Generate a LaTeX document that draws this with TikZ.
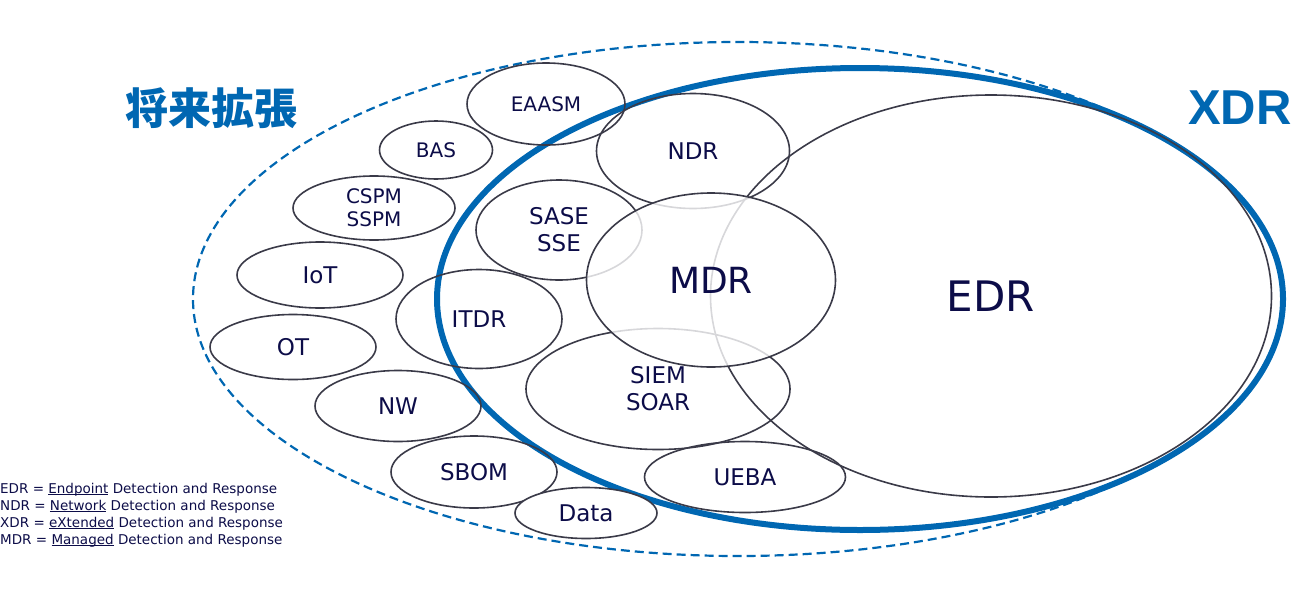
\documentclass[tikz,border=0pt]{standalone}
\usepackage{fontspec}
\setmainfont{DejaVu Sans}
\newfontfamily\jpfont{Noto Sans CJK JP}
\newfontfamily\headfont{Liberation Sans}
\usetikzlibrary{shapes.geometric}
\definecolor{xdrblue}{RGB}{0,103,178}
\definecolor{navy}{RGB}{12,12,72}
\definecolor{rim}{RGB}{58,58,72}
\tikzstyle{item}=[ellipse,draw=rim,line width=1.6pt,inner sep=0pt,text=navy,align=center]
\tikzstyle{small}=[font=\fontsize{20}{23}\selectfont]
\tikzstyle{mid}=[font=\fontsize{23}{27}\selectfont]
\tikzstyle{head}=[text=xdrblue,font=\bfseries]
\newcommand{\uword}[1]{\underline{\smash{#1}}}

\begin{document}
\begin{tikzpicture}[x=1pt,y=-1pt]
          \useasboundingbox (0,0) rectangle (1292,600);

          \node[ellipse,draw=xdrblue,line width=2.2pt,dashed,dash pattern=on 9pt off 5pt,
                minimum width=1090pt,minimum height=514pt] (future) at (738,299) {};
          \node[ellipse,draw=xdrblue,line width=6pt,
                minimum width=846pt,minimum height=462pt] (xdr) at (860,299) {};
          \node[item,minimum width=561pt,minimum height=402pt,
                font=\fontsize{42}{46}\selectfont] (edr) at (991,296) {EDR};

          \node[item,mid,minimum width=193pt,minimum height=115pt] (ndr) at (693,151) {NDR};
          \node[item,mid,minimum width=166pt,minimum height=100pt] (sase) at (559,230) {SASE\\SSE};
          \node[item,mid,minimum width=166pt,minimum height=99pt] (itdr) at (479,319) {ITDR};
          \node[item,mid,minimum width=264pt,minimum height=121pt] (siem) at (658,389) {SIEM\\SOAR};
          \node[item,mid,minimum width=201pt,minimum height=71pt] (ueba) at (745,477) {UEBA};

          \node[item,small,minimum width=158pt,minimum height=82pt] (eaasm) at (546,104) {EAASM};
          \node[item,small,minimum width=113pt,minimum height=58pt] (bas) at (436,150) {BAS};
          \node[item,small,minimum width=162pt,minimum height=64pt] (cspm) at (374,208) {CSPM\\SSPM};
          \node[item,mid,minimum width=166pt,minimum height=66pt] (iot) at (320,275) {IoT};
          \node[item,mid,minimum width=166pt,minimum height=65pt] (ot) at (293,347) {OT};
          \node[item,mid,minimum width=166pt,minimum height=71pt] (nw) at (398,406) {NW};
          \node[item,mid,minimum width=166pt,minimum height=72pt] (sbom) at (474,472) {SBOM};
          \node[item,mid,fill=white,minimum width=142pt,minimum height=51pt] (data) at (586,513) {Data};

          \node[item,fill=white,fill opacity=0.8,text opacity=1,minimum width=249pt,minimum height=174pt,
                font=\fontsize{36}{40}\selectfont] (mdr) at (711,280) {MDR};

          \node[head,font=\jpfont\bfseries\fontsize{43}{46}\selectfont] (plan) at (211,108) {将来拡張};
          \node[head,font=\headfont\bfseries\fontsize{49}{52}\selectfont] (xdrlabel) at (1240,108) {XDR};

          \node[anchor=west,inner sep=0pt,align=left,text=navy,font=\fontsize{13.5}{17}\selectfont] (legend) at (0,515)
               {EDR = \uword{Endpoint} Detection and Response\\
                NDR = \uword{Network} Detection and Response\\
                XDR = \uword{eXtended} Detection and Response\\
                MDR = \uword{Managed} Detection and Response};
        \end{tikzpicture}
\end{document}
